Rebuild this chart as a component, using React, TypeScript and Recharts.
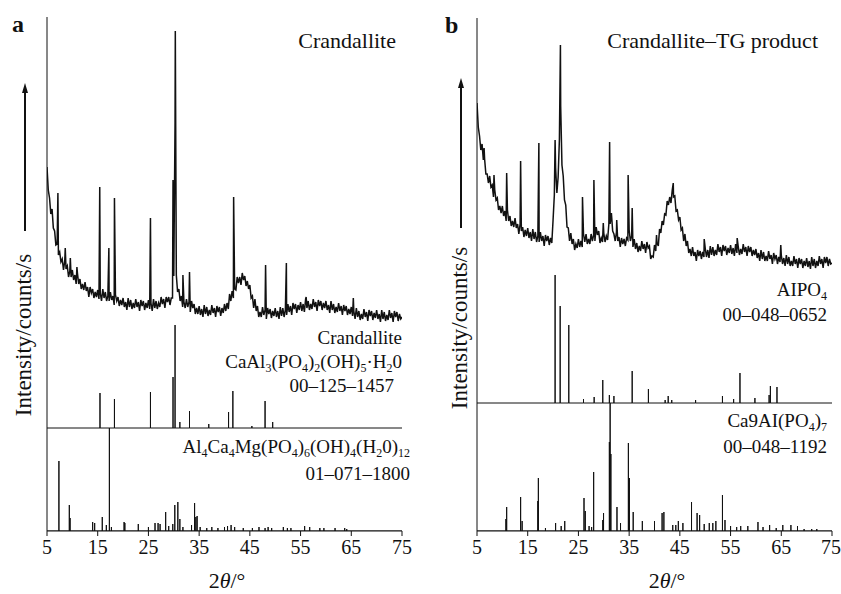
import React from 'react';
import { ComposedChart, Line, XAxis, YAxis, ReferenceLine } from 'recharts';

// measured patterns: counts on a 0.25° grid starting at 5° (one row = 5°), plus sharp reflections
const gridStart = 5;
const gridStep = 0.25;

const crandalliteCounts = [
  364, 341, 333, 317, 322, 303, 300, 286, 287, 276, 279, 269, 272, 261, 270, 262, 265, 254, 260, 254,
  261, 251, 256, 247, 258, 247, 252, 242, 247, 241, 249, 240, 244, 234, 244, 238, 242, 233, 239, 234,
  241, 232, 238, 230, 242, 233, 239, 230, 235, 230, 239, 231, 235, 226, 236, 230, 234, 225, 231, 226,
  233, 224, 229, 221, 233, 224, 231, 222, 228, 223, 232, 224, 229, 220, 231, 225, 230, 221, 228, 223,
  231, 222, 228, 220, 232, 223, 230, 222, 228, 224, 234, 227, 232, 223, 234, 229, 234, 226, 233, 233,
  255, 409, 256, 239, 242, 230, 235, 224, 229, 223, 232, 224, 229, 219, 230, 223, 227, 217, 223, 217,
  225, 216, 222, 214, 226, 217, 224, 215, 221, 216, 226, 218, 223, 214, 225, 219, 224, 215, 223, 218,
  227, 220, 228, 222, 237, 230, 240, 233, 242, 241, 254, 248, 254, 246, 258, 251, 255, 245, 250, 242,
  246, 233, 235, 223, 232, 220, 225, 214, 219, 214, 224, 216, 221, 212, 223, 217, 222, 213, 220, 215,
  223, 214, 220, 212, 224, 215, 223, 214, 221, 216, 227, 219, 225, 216, 228, 222, 227, 218, 226, 221,
  229, 220, 227, 219, 232, 223, 230, 221, 227, 222, 232, 224, 229, 220, 231, 225, 230, 221, 228, 223,
  230, 221, 226, 218, 230, 221, 227, 218, 224, 219, 228, 220, 225, 216, 226, 220, 225, 216, 222, 217,
  224, 215, 220, 212, 223, 214, 220, 211, 217, 212, 222, 214, 219, 210, 221, 215, 220, 211, 218, 213,
  221, 212, 217, 209, 221, 212, 219, 210, 216, 211, 221, 213, 218, 209, 220, 214, 219, 210, 217, 212,
  214,
];
const crandalliteSpikes: [number, number][] = [
  [7.15, 338], [8.6, 283], [9.6, 273], [10.9, 264], [15.4, 344], [17.2, 283],
  [18.3, 333], [25.4, 313], [29.85, 351], [30.3, 500], [31.8, 256], [33.1, 259],
  [41.8, 334], [48.1, 266], [52.2, 268], [56.1, 234], [65.4, 233],
];

const tgCounts = [
  428, 404, 395, 381, 387, 371, 372, 357, 357, 348, 355, 344, 346, 334, 341, 331, 333, 321, 325, 318,
  325, 315, 320, 310, 321, 310, 315, 305, 310, 304, 313, 303, 307, 297, 307, 300, 304, 294, 301, 295,
  303, 293, 299, 290, 302, 292, 299, 289, 295, 289, 299, 290, 295, 285, 296, 290, 295, 286, 293, 288,
  311, 336, 363, 338, 354, 392, 425, 366, 355, 331, 326, 304, 303, 290, 298, 287, 292, 281, 287, 283,
  292, 284, 290, 284, 297, 289, 297, 287, 292, 287, 297, 290, 296, 290, 304, 296, 300, 288, 293, 289,
  298, 289, 295, 291, 307, 307, 318, 300, 297, 290, 299, 290, 294, 284, 293, 287, 292, 285, 293, 291,
  301, 290, 295, 284, 292, 282, 288, 279, 285, 280, 290, 282, 287, 278, 289, 283, 285, 272, 275, 274,
  286, 280, 288, 285, 302, 298, 310, 306, 317, 316, 330, 326, 334, 328, 341, 334, 335, 320, 321, 311,
  314, 301, 303, 290, 297, 285, 290, 278, 282, 275, 284, 275, 279, 270, 281, 275, 280, 272, 279, 274,
  283, 274, 281, 273, 285, 276, 284, 275, 281, 276, 287, 279, 284, 275, 286, 280, 285, 276, 283, 278,
  286, 277, 283, 275, 287, 278, 285, 276, 282, 277, 287, 279, 284, 275, 285, 279, 284, 275, 281, 276,
  282, 273, 278, 270, 281, 272, 279, 270, 275, 270, 280, 272, 276, 267, 278, 272, 276, 267, 274, 269,
  276, 267, 273, 265, 276, 267, 274, 265, 270, 265, 275, 267, 272, 263, 273, 267, 272, 263, 270, 265,
  273, 264, 270, 262, 274, 265, 272, 263, 270, 265, 275, 267, 272, 263, 274, 268, 274, 265, 272, 267,
  268,
];
const tgSpikes: [number, number][] = [
  [6.4, 383], [8.35, 356], [10.85, 358], [13.6, 370], [17.2, 388], [20.4, 391],
  [21.45, 486], [25.8, 334], [28.05, 351], [29.9, 308], [31.15, 389], [32.55, 311],
  [34.8, 356], [35.6, 323], [40.4, 296], [43.7, 348], [49.8, 292], [56.3, 293], [64.9, 286],
];

// reference cards (stick positions / heights)
const crandPos = [15.45, 18.3, 25.4, 29.85, 30.25, 31.2, 33.1, 36.9, 40.8, 41.65, 45.4, 48.0, 49.5];
const crandH = [35, 29, 36, 51, 103, 6, 17, 4, 16, 37, 2, 27, 6];
const crandBase = 103;

const alCaMgPos = [
  7.35, 9.4, 9.55, 14.0, 14.4, 15.9, 16.7, 17.3, 17.7, 20.2, 20.35, 23.0, 25.0, 26.3, 26.9,
  27.3, 28.4, 29.0, 29.8, 30.2, 30.8, 31.2, 31.8, 33.5, 34.1, 34.35, 34.6, 35.2, 36.5, 37.5,
  38.7, 40.0, 40.6, 41.3, 42.0, 43.7, 45.5, 46.8, 48.0, 48.6, 49.3, 51.6, 52.4, 53.1, 55.8,
  56.8, 58.8, 59.6, 61.8, 63.7, 64.1,
];
const alCaMgH = [
  70, 26, 13, 9, 8, 14, 6, 103, 4, 9, 8, 7, 4, 8, 8,
  7, 19, 5, 7, 26, 29, 12, 4, 6, 28, 14, 15, 4, 3, 4,
  3, 4, 5, 6, 4, 3, 3, 4, 3, 4, 3, 4, 3, 3, 5,
  4, 3, 3, 3, 3, 2,
];

const alpo4Pos = [20.4, 21.4, 23.1, 26.0, 28.1, 29.8, 31.1, 32.0, 35.6, 38.8, 42.1, 42.7, 43.4, 48.1, 53.4, 55.6, 56.85, 59.8, 62.6, 62.85, 64.15];
const alpo4H = [128, 97, 78, 4, 6, 23, 8, 7, 32, 14, 3, 7, 3, 3, 7, 4, 30, 5, 8, 17, 16];
const alpo4Base = 128;

const ca9Pos = [
  10.7, 10.85, 13.6, 13.9, 17.0, 17.1, 18.5, 20.5, 21.6, 22.3, 26.1, 26.35, 27.1, 27.6, 28.0,
  29.8, 29.95, 31.1, 31.25, 31.4, 32.6, 33.3, 34.85, 35.05, 35.8, 37.6, 40.0, 41.5, 41.85, 43.6,
  44.2, 44.7, 45.6, 47.3, 48.4, 48.9, 49.8, 50.8, 51.5, 52.1, 53.4, 53.9, 55.0, 56.2, 57.0,
  58.4, 60.4, 61.4, 62.7, 64.0, 65.3, 66.9, 68.2, 69.5, 71.0, 72.0,
];
const ca9H = [
  12, 24, 34, 10, 30, 53, 3, 8, 5, 10, 33, 20, 5, 4, 59,
  11, 18, 89, 128, 77, 24, 8, 88, 53, 19, 10, 10, 18, 19, 6,
  6, 10, 8, 29, 18, 16, 7, 8, 8, 10, 36, 11, 5, 4, 5,
  5, 9, 4, 6, 3, 6, 6, 5, 2, 2, 2,
];

const xTicks = [5, 15, 25, 35, 45, 55, 65, 75];

type Pt = { x: number; y: number };

const buildTrace = (counts: number[], spikes: [number, number][]): Pt[] =>
  [
    ...counts.map((c, i) => ({ x: gridStart + i * gridStep, y: c })),
    ...spikes.map(([x, y]) => ({ x, y })),
  ].sort((a, b) => a.x - b.x);

const buildSticks = (pos: number[], h: number[], base: number): Pt[] => {
  const pts: Pt[] = [{ x: 5, y: base }];
  pos.forEach((p, i) => {
    pts.push({ x: p, y: base }, { x: p, y: base + h[i] }, { x: p, y: base });
  });
  pts.push({ x: 75, y: base });
  return pts;
};

const serif = '"Liberation Serif", "DejaVu Serif", serif';
const ink = '#111';

const Panel = ({ left, width, marginLeft, marginRight, top, series }) => (
  <div style={{ position: 'absolute', left, top: 0 }}>
    <ComposedChart
      width={width}
      height={594}
      margin={{ top, right: marginRight, left: marginLeft, bottom: 33 }}
    >
      <XAxis
        type="number"
        dataKey="x"
        domain={[5, 75]}
        ticks={xTicks}
        allowDataOverflow
        height={30}
        tickSize={5}
        tickMargin={4}
        stroke={ink}
        tick={{ fontSize: 20, fill: ink, fontFamily: serif }}
      />
      <YAxis type="number" domain={[0, 531 - top]} allowDataOverflow hide />
      <ReferenceLine x={5} stroke={ink} strokeWidth={1} ifOverflow="visible" />
      {series.map((s, i) => (
        <Line
          key={i}
          data={s.data}
          dataKey="y"
          type="linear"
          stroke={ink}
          strokeWidth={s.w}
          dot={false}
          activeDot={false}
          isAnimationActive={false}
        />
      ))}
    </ComposedChart>
  </div>
);

const Chem = ({ x, y, parts, size = 19 }) => (
  <text x={x} y={y} textAnchor="end" fontSize={size} fontFamily={serif} fill={ink}>
    {parts.map(([t, sub], i) =>
      sub ? (
        <tspan key={i} fontSize={12} baselineShift="-30%">
          {t}
        </tspan>
      ) : (
        <tspan key={i}>{t}</tspan>
      )
    )}
  </text>
);

const YLabel = ({ x, y, ax, top, bottom }) => (
  <g>
    <text
      x={x}
      y={y}
      transform={`rotate(-90 ${x} ${y})`}
      textAnchor="middle"
      fontSize={23}
      fontFamily={serif}
      fill={ink}
    >
      Intensity/counts/s
    </text>
    <line x1={ax} x2={ax} y1={bottom} y2={top + 8} stroke={ink} strokeWidth={2} />
    <polygon points={`${ax},${top} ${ax - 3},${top + 10} ${ax + 3},${top + 10}`} fill={ink} />
  </g>
);

const XTitle = ({ x }) => (
  <text x={x} y={588} textAnchor="middle" fontSize={22} fontFamily={serif} fill={ink}>
    2<tspan fontStyle="italic">θ</tspan>/°
  </text>
);

export default function App() {
  const seriesA = [
    { data: buildTrace(crandalliteCounts, crandalliteSpikes), w: 1.5 },
    { data: buildSticks(crandPos, crandH, crandBase), w: 1 },
    { data: buildSticks(alCaMgPos, alCaMgH, 0), w: 1 },
  ];
  const seriesB = [
    { data: buildTrace(tgCounts, tgSpikes), w: 1.5 },
    { data: buildSticks(alpo4Pos, alpo4H, alpo4Base), w: 1 },
    { data: buildSticks(ca9Pos, ca9H, 0), w: 1 },
  ];

  return (
    <div style={{ position: 'absolute', left: 0, top: 0, width: 841, height: 594, background: '#fff' }}>
      <Panel left={0} width={420} marginLeft={47} marginRight={18} top={17} series={seriesA} />
      <Panel left={420} width={421} marginLeft={57} marginRight={9} top={18} series={seriesB} />
      <svg
        width={841}
        height={594}
        style={{ position: 'absolute', left: 0, top: 0, pointerEvents: 'none' }}
      >
        <text x={12} y={32} fontSize={24} fontWeight="bold" fontFamily={serif} fill={ink}>a</text>
        <text x={445} y={33} fontSize={24} fontWeight="bold" fontFamily={serif} fill={ink}>b</text>

        <text x={396} y={48} textAnchor="end" fontSize={22} fontFamily={serif} fill={ink}>Crandallite</text>
        <text x={818} y={48} textAnchor="end" fontSize={22} fontFamily={serif} fill={ink}>Crandallite–TG product</text>

        <Chem x={402} y={344} parts={[['Crandallite', false]]} />
        <Chem
          x={402}
          y={368}
          parts={[['CaAl', false], ['3', true], ['(PO', false], ['4', true], [')', false], ['2', true], ['(OH)', false], ['5', true], ['·H', false], ['2', true], ['0', false]]}
        />
        <Chem x={394} y={392} parts={[['00–125–1457', false]]} />
        <Chem
          x={410}
          y={453}
          parts={[['Al', false], ['4', true], ['Ca', false], ['4', true], ['Mg(PO', false], ['4', true], [')', false], ['6', true], ['(OH)', false], ['4', true], ['(H', false], ['2', true], ['0)', false], ['12', true]]}
        />
        <Chem x={410} y={480} parts={[['01–071–1800', false]]} />

        <Chem x={827} y={296} parts={[['AIPO', false], ['4', true]]} />
        <Chem x={827} y={321} parts={[['00–048–0652', false]]} />
        <Chem x={827} y={427} parts={[['Ca9AI(PO', false], ['4', true], [')', false], ['7', true]]} />
        <Chem x={827} y={453} parts={[['00–048–1192', false]]} />

        <YLabel x={31} y={335} ax={25} top={83} bottom={231} />
        <YLabel x={467} y={328} ax={461} top={78} bottom={228} />

        <XTitle x={227} />
        <XTitle x={667} />
      </svg>
    </div>
  );
}
